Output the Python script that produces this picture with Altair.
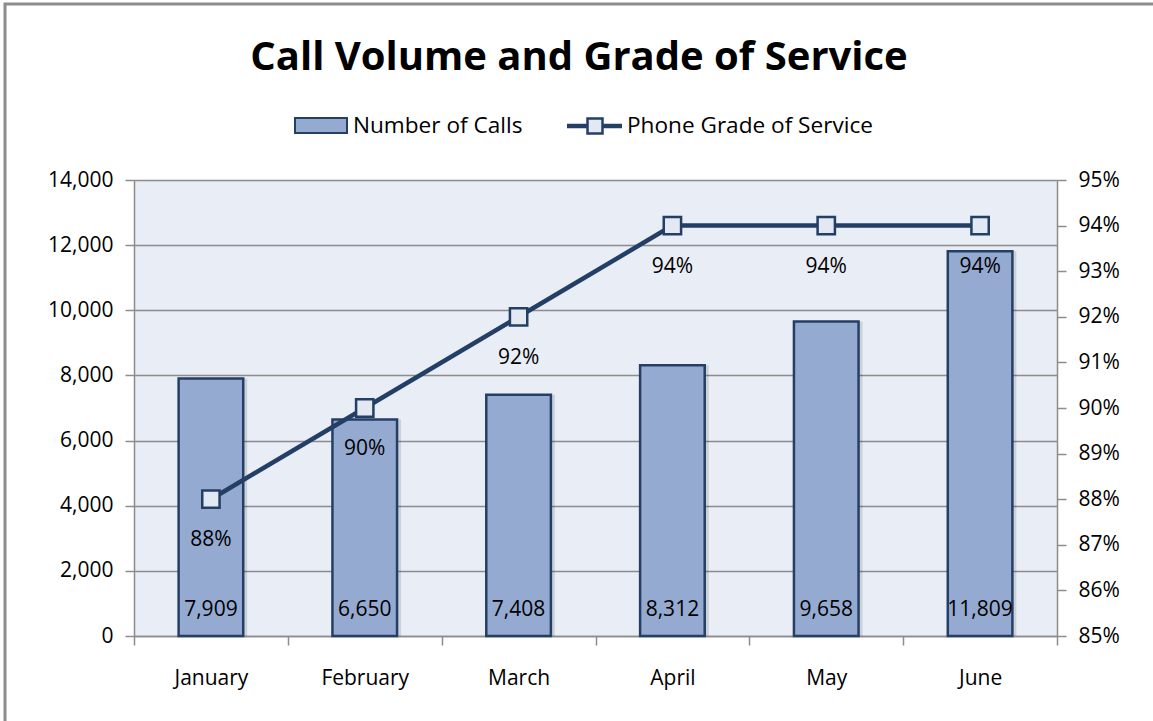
import altair as alt
import pandas as pd

months = ["January", "February", "March", "April", "May", "June"]
calls = [7909, 6650, 7408, 8312, 9658, 11809]
grade = [0.88, 0.90, 0.92, 0.94, 0.94, 0.94]

title_text = "Call Volume and Grade of Service"
legend_bar = "Number of Calls"
legend_line = "Phone Grade of Service"

df = pd.DataFrame({"month": months, "calls": calls, "grade": grade})

FONT = "Open Sans"
BAR_FILL = "#95AAD1"
DARK = "#243F66"
GRID = "#8C8C8C"
LAB = 21

W, H = 923, 456

x_enc = alt.X("month:N", sort=months, title=None,
              scale=alt.Scale(paddingInner=0, paddingOuter=0),
              axis=alt.Axis(labelAngle=0, labelFontSize=LAB, labelFont=FONT, labelColor="black",
                            tickBand="extent", tickSize=9, tickColor=GRID, tickWidth=1.5,
                            domainColor=GRID, domainWidth=1.5, labelPadding=22, grid=False))

left_axis = alt.Axis(values=list(range(0, 14001, 2000)), format=",.0f", labelFontSize=LAB,
                     labelFont=FONT, labelColor="black", tickSize=9, tickColor=GRID,
                     tickWidth=1.5, domainColor=GRID, domainWidth=1.5, labelPadding=12,
                     grid=True, gridColor=GRID, gridWidth=1.5, orient="left")
left_scale = alt.Scale(domain=[0, 14000], nice=False)

right_axis = alt.Axis(values=[0.85 + i * 0.01 for i in range(11)], format=".0%",
                      labelFontSize=LAB, labelFont=FONT, labelColor="black", tickSize=9,
                      tickColor=GRID, tickWidth=1.5, domainColor=GRID, domainWidth=1.5,
                      labelPadding=12, grid=False, orient="right")
right_scale = alt.Scale(domain=[0.85, 0.95], nice=False)

y_left = alt.Y("calls:Q", title=None, scale=left_scale, axis=left_axis)
y_zero = alt.Y("zero:Q", title=None, scale=left_scale, axis=left_axis)
y_right = alt.Y("grade:Q", title=None, scale=right_scale, axis=right_axis)

base = alt.Chart(df)

bar_shadow = base.mark_bar(width=alt.RelativeBandSize(0.42), color="#000000", opacity=0.12,
                           xOffset=4).encode(x=x_enc, y=y_left)
bars = base.mark_bar(width=alt.RelativeBandSize(0.42), fill=BAR_FILL, stroke=DARK,
                     strokeWidth=2.5).encode(x=x_enc, y=y_left)
bar_labels = base.transform_calculate(zero="0").mark_text(
    font=FONT, fontSize=LAB, color="black", dy=-26, baseline="middle").encode(
    x=x_enc, y=y_zero, text=alt.Text("calls:Q", format=",.0f"))

left = alt.layer(bar_shadow, bars, bar_labels)

line = base.mark_line(color=DARK, strokeWidth=4.5).encode(x=x_enc, y=y_right)
points = base.mark_point(shape="square", size=300, filled=True, fill="#E3E9F3",
                         stroke=DARK, strokeWidth=2.5, opacity=1).encode(x=x_enc, y=y_right)
pct_labels = base.mark_text(font=FONT, fontSize=LAB, color="black", dy=41,
                            baseline="middle").encode(
    x=x_enc, y=y_right, text=alt.Text("grade:Q", format=".0%"))

right = alt.layer(line, points, pct_labels)

one = pd.DataFrame({"k": [0]})
deco = alt.Chart(one)
border = deco.mark_rect(fill=None, stroke="#8C8C8C", strokeWidth=3).encode(
    x=alt.value(-129), x2=alt.value(1200), y=alt.value(-176), y2=alt.value(800))
title = deco.mark_text(text=title_text, font=FONT, fontSize=40, fontWeight="bold",
                       color="black", baseline="alphabetic", align="center").encode(
    x=alt.value(445), y=alt.value(-110))
leg_rect = deco.mark_rect(fill=BAR_FILL, stroke=DARK, strokeWidth=2).encode(
    x=alt.value(161), x2=alt.value(213), y=alt.value(-62), y2=alt.value(-47))
leg_text1 = deco.mark_text(text=legend_bar, font=FONT, fontSize=22.6, color="black",
                           align="left", baseline="middle").encode(
    x=alt.value(219), y=alt.value(-54))
leg_line = deco.mark_rule(color=DARK, strokeWidth=4.5).encode(
    x=alt.value(433), x2=alt.value(488), y=alt.value(-54))
leg_sq = deco.mark_point(shape="square", size=225, filled=True, fill="#E3E9F3",
                         stroke=DARK, strokeWidth=2.5, opacity=1).encode(
    x=alt.value(461), y=alt.value(-54))
leg_text2 = deco.mark_text(text=legend_line, font=FONT, fontSize=22.6, color="black",
                           align="left", baseline="middle").encode(
    x=alt.value(493), y=alt.value(-54))

decor = alt.layer(border, title, leg_rect, leg_text1, leg_line, leg_sq, leg_text2)

chart = alt.layer(left, right, decor).resolve_scale(y="independent").properties(
    width=W, height=H,
    autosize=alt.AutoSizeParams(type="none"),
    padding={"left": 134, "top": 180, "right": 96, "bottom": 85},
    background="white",
).configure_view(fill="#E9EDF5", stroke=None)

chart.save("out.html", embed_options={"renderer": "svg", "actions": False})
